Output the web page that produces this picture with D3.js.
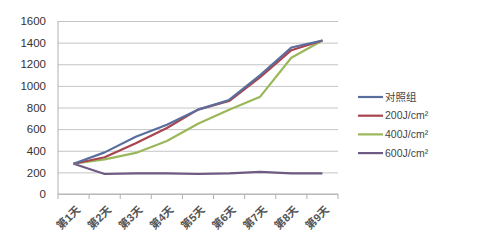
<!DOCTYPE html>
<html>
<head>
<meta charset="utf-8">
<script src="https://cdn.jsdelivr.net/npm/d3@7"></script>
<style>
  body { margin: 0; background: #fff; }
  svg { display: block; font-family: "Liberation Sans", "Noto Sans CJK SC", sans-serif; }
</style>
</head>
<body>
<div id="chart"></div>
<script>
const days = ["第1天", "第2天", "第3天", "第4天", "第5天", "第6天", "第7天", "第8天", "第9天"];
const control = [280, 385, 530, 640, 780, 870, 1100, 1355, 1420];
const dose200 = [280, 340, 470, 610, 780, 860, 1080, 1330, 1420];
const dose400 = [280, 320, 380, 490, 650, 780, 900, 1260, 1420];
const dose600 = [280, 185, 190, 190, 185, 190, 205, 190, 190];
const seriesNames = ["对照组", "200J/cm²", "400J/cm²", "600J/cm²"];
const seriesColors = ["#5a6e9e", "#a8444e", "#9ab85a", "#6e5a82"];
const yTicks = [0, 200, 400, 600, 800, 1000, 1200, 1400, 1600];

const width = 479, height = 241;
const plot = { left: 58, right: 338, top: 21, bottom: 194 };

const svg = d3.select("#chart").append("svg")
  .attr("width", width).attr("height", height);

const x = d3.scaleBand().domain(days).range([plot.left, plot.right]);
const y = d3.scaleLinear().domain([0, 1600]).range([plot.bottom, plot.top]);

/* gridlines + y labels */
svg.append("g")
  .attr("transform", `translate(${plot.left},0)`)
  .call(d3.axisLeft(y).tickValues(yTicks).tickFormat(d3.format("d"))
    .tickSize(-(plot.right - plot.left)).tickPadding(12))
  .call((g) => {
    g.select(".domain").remove();
    g.selectAll(".tick line").attr("stroke", "#c4c4c4");
    g.selectAll(".tick text").attr("fill", "#333").style("font-size", "11.5px");
  });

/* left axis line */
svg.append("line")
  .attr("x1", plot.left).attr("x2", plot.left)
  .attr("y1", plot.top).attr("y2", plot.bottom)
  .attr("stroke", "#b0b0b0");

/* x axis: ticks between categories */
const xAxis = svg.append("g").attr("transform", `translate(0,${plot.bottom})`);
xAxis.append("line")
  .attr("x1", plot.left).attr("x2", plot.right)
  .attr("stroke", "#b0b0b0");
xAxis.selectAll(".tk")
  .data(days.map((d) => x(d)).concat([plot.right]))
  .join("line")
  .attr("x1", (d) => d).attr("x2", (d) => d)
  .attr("y1", 0).attr("y2", 5)
  .attr("stroke", "#b0b0b0");
xAxis.selectAll("text")
  .data(days)
  .join("text")
  .attr("transform", (d) => `translate(${x(d) + x.bandwidth() / 2 + 2},${11}) rotate(-45)`)
  .attr("text-anchor", "end")
  .attr("dy", "0.7em")
  .attr("fill", "#555")
  .style("font-size", "11px")
  .style("font-weight", "bold")
  .text((d) => d);

/* lines */
const allSeries = [control, dose200, dose400, dose600];
const line = d3.line()
  .x((d, i) => x(days[i]) + x.bandwidth() / 2)
  .y((d) => y(d));
svg.append("g")
  .selectAll("path")
  .data([3, 2, 1, 0])
  .join("path")
  .attr("d", (k) => line(allSeries[k]))
  .attr("fill", "none")
  .attr("stroke", (k) => seriesColors[k])
  .attr("stroke-width", 2.2)
  .attr("stroke-linejoin", "round");

/* legend */
const legend = svg.append("g").attr("transform", "translate(358,97)");
const row = legend.selectAll("g")
  .data(seriesNames)
  .join("g")
  .attr("transform", (d, i) => `translate(0,${i * 18.7})`);
row.append("line")
  .attr("x1", 0).attr("x2", 25)
  .attr("stroke", (d, i) => seriesColors[i])
  .attr("stroke-width", 2.2);
row.append("text")
  .attr("x", 27).attr("dy", "0.35em")
  .attr("fill", "#444")
  .style("font-size", "10.5px")
  .text((d) => d);
</script>
</body>
</html>
